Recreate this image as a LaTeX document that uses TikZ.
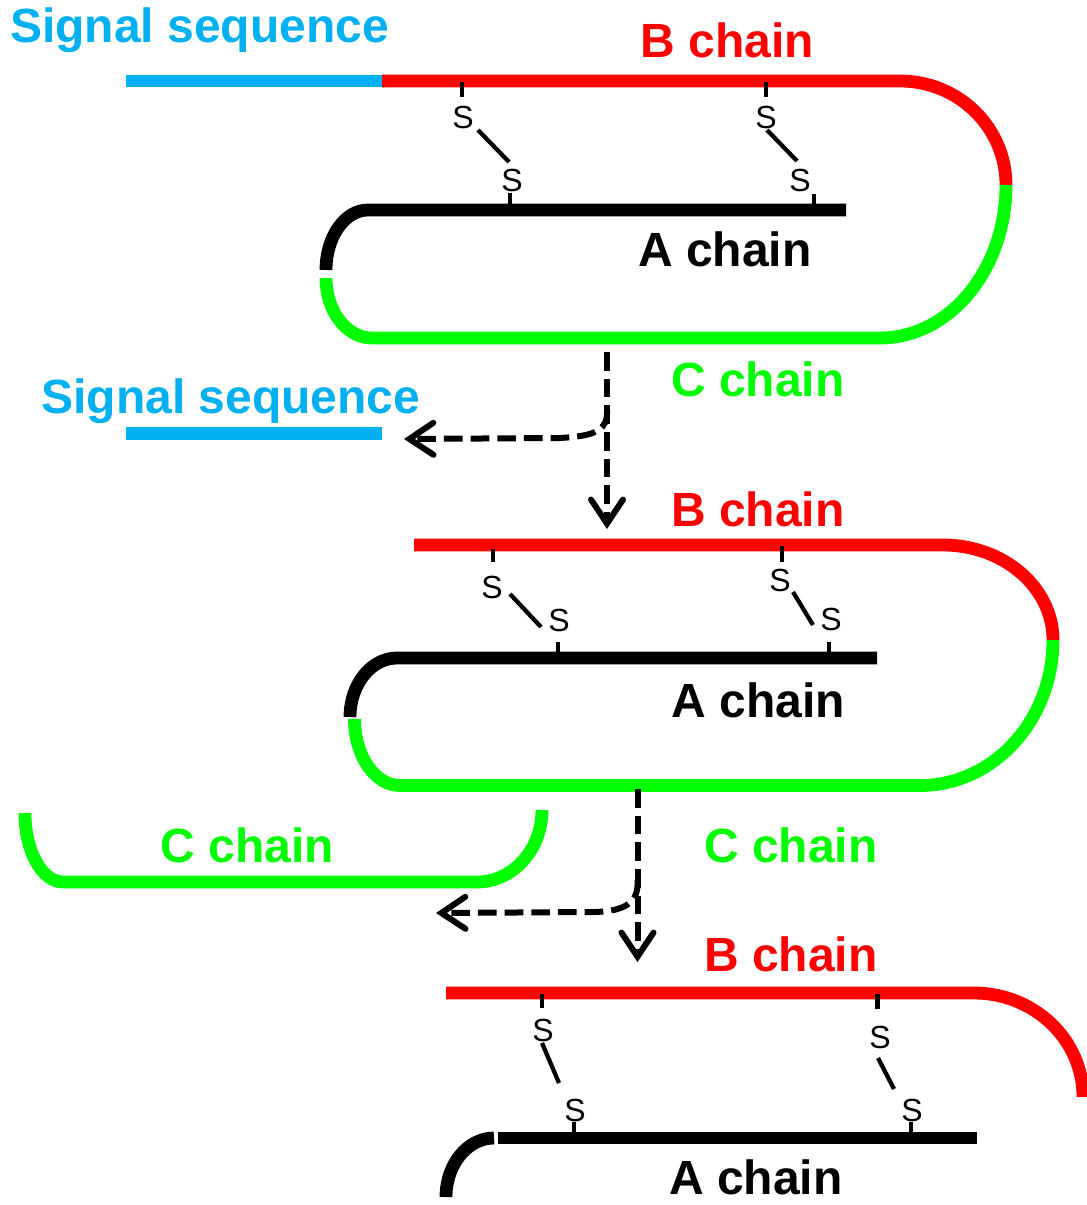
\documentclass[tikz,border=0pt]{standalone}
\usepackage{fontspec}
\setmainfont{Liberation Sans}
\usetikzlibrary{arrows.meta}
\definecolor{sigblue}{RGB}{0,176,240}
\definecolor{bred}{RGB}{255,0,0}
\definecolor{cgreen}{RGB}{0,255,0}
\tikzset{
  chain/.style={line width=9.6pt, line cap=butt},
  tick/.style={line width=3.2pt, line cap=butt},
  lbl/.style={font=\bfseries\fontsize{36}{40}\selectfont, inner sep=0pt, anchor=base},
  sul/.style={font=\fontsize{24}{26}\selectfont, inner sep=0pt},
  darrow/.style={line width=4.5pt, dash pattern=on 14pt off 6pt,
    -{Straight Barb[length=18pt,width=24pt,line cap=round,line join=miter]}},
}
\begin{document}
\begin{tikzpicture}[x=0.75pt,y=-0.75pt]
\useasboundingbox (0,0) rectangle (1086,1205);

% ---------------- Panel 1 ----------------
\draw[chain, sigblue] (126,81) -- (382,81);
\draw[chain, bred] (382,81) -- (900,81) arc[start angle=-90,end angle=0,x radius=106,y radius=104];
\draw[chain, cgreen] (1006,185) arc[start angle=0,end angle=90,x radius=126,y radius=153]
  -- (372,338) arc[start angle=90,end angle=180,x radius=46,y radius=60];
\draw[chain, black] (326,270) arc[start angle=180,end angle=270,x radius=42,y radius=60] -- (846,210);

\node[lbl, sigblue] (sig1) at (199.5,43) {Signal sequence};
\node[lbl, bred] (b1) at (727.5,58) {B chain};
\node[lbl, black] (a1) at (725,267) {A chain};
\node[lbl, cgreen] (c1) at (758,396) {C chain};

% S-S bridges panel 1
\node[sul] (s11) at (463,117) {S};
\node[sul] (s12) at (512,180) {S};
\node[sul] (s13) at (766,117) {S};
\node[sul] (s14) at (800,180) {S};
\coordinate (t11a) at (462,82); \coordinate (t11b) at (462,97);
\coordinate (t12a) at (510,193); \coordinate (t12b) at (510,206);
\coordinate (t13a) at (766,82); \coordinate (t13b) at (766,97);
\coordinate (t14a) at (814,194); \coordinate (t14b) at (814,206);
\coordinate (l11a) at (478,130); \coordinate (l11b) at (509,162);
\coordinate (l13a) at (767,130); \coordinate (l13b) at (797,161);
\draw[tick] (t11a) -- (t11b);
\draw[tick] (t12a) -- (t12b);
\draw[tick] (t13a) -- (t13b);
\draw[tick] (t14a) -- (t14b);
\draw[tick] (l11a) -- (l11b);
\draw[tick] (l13a) -- (l13b);

% arrows 1
\coordinate (v1s) at (607,352);
\coordinate (v1e) at (607,529);
\coordinate (h1s) at (607,410);
\coordinate (h1e) at (404,439);
\draw[darrow] (v1s) -- (v1e);
\draw[darrow] (h1s) .. controls (608,430) and (596,436) .. (560,438) -- (h1e);

% released signal sequence
\node[lbl, sigblue] (sig2) at (231,413) {Signal sequence};
\draw[chain, sigblue] (126,433.5) -- (382,433.5);

% ---------------- Panel 2 ----------------
\draw[chain, bred] (414,545) -- (943,545) arc[start angle=-90,end angle=0,x radius=110,y radius=95];
\draw[chain, cgreen] (1053,640) arc[start angle=0,end angle=90,x radius=133,y radius=145.5]
  -- (400,785.5) arc[start angle=90,end angle=180,x radius=45.5,y radius=66.5];
\draw[chain, black] (350,717) arc[start angle=180,end angle=270,x radius=47,y radius=59] -- (877,658);

\node[lbl, bred] (b2) at (758,526) {B chain};
\node[lbl, black] (a2) at (758.5,717) {A chain};
\node[lbl, cgreen] (c2) at (791,862) {C chain};

\node[sul] (s21) at (492,587) {S};
\node[sul] (s22) at (559,620) {S};
\node[sul] (s23) at (780,580) {S};
\node[sul] (s24) at (831,619) {S};
\coordinate (t21a) at (493,549); \coordinate (t21b) at (493,562);
\coordinate (t22a) at (558,642); \coordinate (t22b) at (558,654);
\coordinate (t23a) at (782,546); \coordinate (t23b) at (782,562);
\coordinate (t24a) at (829,642); \coordinate (t24b) at (829,654);
\coordinate (l21a) at (510,594); \coordinate (l21b) at (541,627);
\coordinate (l23a) at (793,592); \coordinate (l23b) at (813,625);
\draw[tick] (t21a) -- (t21b);
\draw[tick] (t22a) -- (t22b);
\draw[tick] (t23a) -- (t23b);
\draw[tick] (t24a) -- (t24b);
\draw[tick] (l21a) -- (l21b);
\draw[tick] (l23a) -- (l23b);

% arrows 2
\coordinate (v2s) at (637.5,789);
\coordinate (v2e) at (637.5,962);
\coordinate (h2s) at (637.5,880);
\coordinate (h2e) at (436,913);
\draw[darrow] (v2s) -- (v2e);
\draw[darrow] (h2s) .. controls (639,902) and (626,911) .. (595,912) -- (h2e);

% released C chain
\draw[chain, cgreen] (25,813) arc[start angle=180,end angle=90,x radius=38,y radius=69]
  -- (477,882) arc[start angle=90,end angle=0,x radius=65,y radius=72];
\node[lbl, cgreen] (c3) at (247.5,862) {C chain};

% ---------------- Panel 3 ----------------
\draw[chain, bred] (446,993) -- (974,993) arc[start angle=-90,end angle=0,x radius=109,y radius=104];
\draw[chain, black] (446,1197) arc[start angle=180,end angle=270,x radius=48,y radius=59];
\draw[chain, black] (498,1138) -- (977,1138);

\node[lbl, bred] (b3) at (791,971) {B chain};
\node[lbl, black, text depth=0pt] (a3) at (756,1194) {A chain};

\node[sul] (s31) at (543,1030) {S};
\node[sul] (s32) at (575,1110) {S};
\node[sul] (s33) at (880,1037) {S};
\node[sul] (s34) at (912,1110) {S};
\coordinate (t31a) at (542,994); \coordinate (t31b) at (542,1008);
\coordinate (t32a) at (574,1122); \coordinate (t32b) at (574,1134);
\coordinate (t33a) at (877.5,994); \coordinate (t33b) at (877.5,1009);
\coordinate (t34a) at (911,1122); \coordinate (t34b) at (911,1134);
\coordinate (l31a) at (542,1043); \coordinate (l31b) at (559,1083);
\coordinate (l33a) at (878,1058); \coordinate (l33b) at (894,1089);
\draw[tick] (t31a) -- (t31b);
\draw[tick] (t32a) -- (t32b);
\draw[tick] (t33a) -- (t33b);
\draw[tick] (t34a) -- (t34b);
\draw[tick] (l31a) -- (l31b);
\draw[tick] (l33a) -- (l33b);
\end{tikzpicture}
\end{document}
